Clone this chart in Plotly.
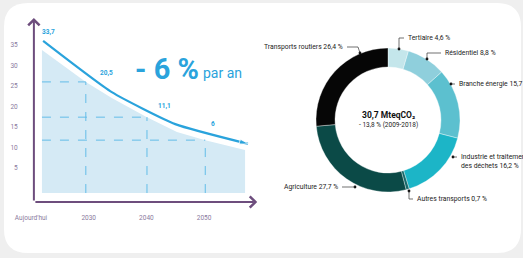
import plotly.graph_objects as go

W, H = 523, 258

# ---------------- data ----------------
# left chart : emission trajectory (MteqCO2)
value_labels = ["33,7", "20,5", "11,1", "6"]
trend_years = [2022.1, 2034.0, 2045.0, 2057.6]
trend_values = [36.0, 23.5, 15.7, 10.9]
area_years = [2021.9, 2029.5, 2034.0, 2040.1, 2045.3, 2050.2, 2057.1]
area_values = [33.8, 26.0, 22.1, 17.4, 13.8, 11.8, 9.4]
area_base = -1.1
guide_idx = [1, 3, 5]
x_tickvals = [2020, 2030, 2040, 2050]
x_ticktext = ["Aujourd'hui", "2030", "2040", "2050"]
y_tickvals = [5, 10, 15, 20, 25, 30, 35]
y_ticktext = ["5", "10", "15", "20", "25", "30", "35"]
headline = "- 6 %"
headline_sub = "par an"

# right chart : sector shares
sectors = ["Tertiaire", "Résidentiel", "Branche énergie", "Industrie et traitement des déchets",
           "Autres transports", "Agriculture", "Transports routiers"]
shares = [4.6, 8.8, 15.7, 16.2, 0.7, 27.7, 26.4]
share_text = ["Tertiaire 4,6 %", "Résidentiel 8,8 %", "Branche énergie 15,7 %",
              "Industrie et traitement<br>des déchets 16,2 %", "Autres transports 0,7 %",
              "Agriculture 27,7 %", "Transports routiers 26,4 %"]
total_text = "30,7 MteqCO₂"
total_sub = "- 13,8 % (2009-2018)"

# ---------------- style ----------------
FONT = "Roboto, Liberation Sans, sans-serif"
BLUE = "#2aa3dc"
FILL = "#d5eaf5"
DASH = "#63bde8"
PURPLE = "#6d4d7d"
TICK = "#8a7a9e"
slice_colors = ["#c4e6eb", "#8fcfdc", "#5cc0cf", "#1cb5c7", "#16696a", "#0b4a47", "#060606"]

def px(x):
    return x / W

def py(y):
    return 1 - y / H

fig = go.Figure()

# area under trajectory
fig.add_trace(go.Scatter(
    x=area_years + [area_years[-1], area_years[0]],
    y=area_values + [area_base, area_base],
    fill="toself", fillcolor=FILL, mode="lines", line=dict(width=0),
    hoverinfo="skip", showlegend=False, xaxis="x", yaxis="y"))

# trajectory line with arrow tip
fig.add_trace(go.Scatter(
    x=trend_years, y=trend_values, mode="lines+markers",
    line=dict(color=BLUE, width=2.2, shape="spline", smoothing=0.5),
    marker=dict(symbol="arrow", angleref="previous",
                size=[0] * (len(trend_years) - 1) + [9], color=BLUE),
    hoverinfo="skip", showlegend=False, xaxis="x", yaxis="y"))

# donut
fig.add_trace(go.Pie(
    values=shares, labels=sectors, sort=False, direction="clockwise", rotation=0,
    hole=0.736, textinfo="none", hoverinfo="skip", showlegend=False,
    marker=dict(colors=slice_colors, line=dict(color="rgba(255,255,255,0.6)", width=0.6)),
    domain=dict(x=[px(388 - 72), px(388 + 72)], y=[py(120 + 72), py(120 - 72)])))

shapes = []
annotations = []

# rounded white card
x0, x1, y0, y1, r = 4, 521, 3, 253, 24
rx, ry = r / W, r / H
X0, X1, Y0, Y1 = px(x0), px(x1), py(y1), py(y0)
path = (f"M{X0+rx},{Y1} L{X1-rx},{Y1} Q{X1},{Y1} {X1},{Y1-ry} L{X1},{Y0+ry} "
        f"Q{X1},{Y0} {X1-rx},{Y0} L{X0+rx},{Y0} Q{X0},{Y0} {X0},{Y0+ry} "
        f"L{X0},{Y1-ry} Q{X0},{Y1} {X0+rx},{Y1} Z")
shapes.append(dict(type="path", xref="paper", yref="paper", path=path,
                   fillcolor="white", line=dict(width=0), layer="below"))

# dashed guides
for i in guide_idx:
    gx, gy = area_years[i], area_values[i]
    shapes.append(dict(type="line", xref="x", yref="y", x0=gx, x1=gx, y0=area_base, y1=gy,
                       line=dict(color=DASH, width=1, dash="dash")))
    shapes.append(dict(type="line", xref="x", yref="y", x0=area_years[0], x1=gx, y0=gy, y1=gy,
                       line=dict(color=DASH, width=1, dash="dash")))

# axes arrows
XA = 2020.5
YA = -3.29
annotations.append(dict(x=XA, y=41.6, ax=XA, ay=YA, xref="x", yref="y", axref="x", ayref="y",
                        text="", showarrow=True, arrowhead=4, arrowsize=1.1, arrowwidth=2,
                        arrowcolor=PURPLE))
annotations.append(dict(x=2059.2, y=YA, ax=XA, ay=YA, xref="x", yref="y", axref="x", ayref="y",
                        text="", showarrow=True, arrowhead=4, arrowsize=1.1, arrowwidth=2,
                        arrowcolor=PURPLE))

# value labels
label_pos = [(2022.95, 38.2), (2033.0, 28.2), (2043.2, 20.1), (2051.5, 15.7)]
for (lx, ly), t in zip(label_pos, value_labels):
    annotations.append(dict(x=lx, y=ly, xref="x", yref="y", text=f"<b>{t}</b>", showarrow=False,
                            xanchor="center", yanchor="middle",
                            font=dict(family=FONT, size=6.5, color=BLUE)))

# headline
annotations.append(dict(x=px(133), y=py(69), xref="paper", yref="paper", xanchor="left",
                        yanchor="middle", text=f"<b>{headline}</b>", showarrow=False,
                        font=dict(family=FONT, size=29, color=BLUE)))
annotations.append(dict(x=px(201), y=py(73), xref="paper", yref="paper", xanchor="left",
                        yanchor="middle", text=headline_sub, showarrow=False,
                        font=dict(family=FONT, size=14, color=BLUE)))

# donut centre text
annotations.append(dict(x=px(388), y=py(115), xref="paper", yref="paper", text=f"<b>{total_text}</b>",
                        xanchor="center", yanchor="middle",
                        showarrow=False, font=dict(family=FONT, size=8.5, color="#111")))
annotations.append(dict(x=px(388), y=py(125), xref="paper", yref="paper", text=total_sub,
                        xanchor="center", yanchor="middle",
                        showarrow=False, font=dict(family=FONT, size=6.5, color="#222")))

# donut labels : (dot, leader polyline, text anchor point, side)
callouts = [
    ((399, 49), [(399, 49), (399, 38), (404, 38)], (406, 38), "left"),
    ((427, 59), [(427, 59), (427, 53), (441, 53)], (443, 53), "left"),
    ((451, 84), [(451, 84), (455, 84)], (457, 84), "left"),
    ((453, 157), [(453, 157), (457, 157)], (459, 161.5), "left"),
    ((409, 191), [(409, 191), (409, 199), (413, 199)], (415, 199), "left"),
    ((355, 187), [(355, 187), (342, 187)], (340, 187), "right"),
    ((360, 53), [(360, 53), (358, 47), (347, 47)], (345, 47), "right"),
]
for (dx, dy), poly, (tx, ty), side in callouts:
    shapes.append(dict(type="circle", xref="paper", yref="paper",
                       x0=px(dx - 1.4), x1=px(dx + 1.4), y0=py(dy + 1.4), y1=py(dy - 1.4),
                       fillcolor="#111", line=dict(width=0)))
    p = "M" + " L".join(f"{px(a)},{py(b)}" for a, b in poly)
    shapes.append(dict(type="path", xref="paper", yref="paper", path=p,
                       line=dict(color="#333", width=0.7)))
for ((dx, dy), poly, (tx, ty), side), t in zip(callouts, share_text):
    annotations.append(dict(x=px(tx), y=py(ty), xref="paper", yref="paper", text=t,
                            xanchor=side, yanchor="middle", align="left", showarrow=False,
                            font=dict(family=FONT, size=6.8, color="#222")))

fig.update_layout(
    width=W, height=H, autosize=False,
    margin=dict(l=0, r=0, t=0, b=0),
    paper_bgcolor="#efefef", plot_bgcolor="rgba(0,0,0,0)",
    shapes=shapes, annotations=annotations,
    xaxis=dict(domain=[px(31), px(258)], range=[2020, 2059.34], showgrid=False, zeroline=False,
               showline=False, tickvals=x_tickvals, ticktext=x_ticktext, ticks="outside",
               ticklen=9, tickcolor="rgba(0,0,0,0)", automargin=False,
               tickfont=dict(family=FONT, size=6.5, color=TICK)),
    yaxis=dict(domain=[py(202), py(15)], range=[-3.29, 42.32], showgrid=False, zeroline=False,
               showline=False, tickvals=y_tickvals, ticktext=y_ticktext, ticks="outside",
               ticklen=11, tickcolor="rgba(0,0,0,0)", automargin=False,
               tickfont=dict(family=FONT, size=6.5, color=TICK)),
)

fig.write_html("out.html", config={"displayModeBar": False},
               post_script="document.body.style.margin='0';document.body.style.background='#efefef';")
